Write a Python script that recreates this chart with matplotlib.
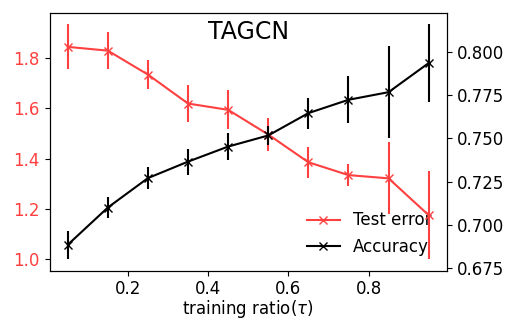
import numpy as np
import matplotlib
matplotlib.use('Agg')
import matplotlib.pyplot as plt

ratio = [0.05, 0.15, 0.25, 0.35, 0.45, 0.55, 0.65, 0.75, 0.85, 0.95]
# Test error (left axis) and its spread
test_err = [1.844, 1.829, 1.734, 1.619, 1.594, 1.496, 1.386, 1.335, 1.322, 1.176]
test_err_std = [0.089, 0.074, 0.059, 0.074, 0.077, 0.064, 0.062, 0.045, 0.143, 0.174]
# Accuracy (right axis) and its spread
acc = [0.6885, 0.7100, 0.7270, 0.7365, 0.7452, 0.7516, 0.7645, 0.7722, 0.7766, 0.7934]
acc_std = [0.0082, 0.0062, 0.0064, 0.0075, 0.0080, 0.0055, 0.0089, 0.0135, 0.0265, 0.0223]

red = '#ff4040'

fig = plt.figure(figsize=(5.16, 3.22), dpi=100)
ax = fig.add_axes([0.0963, 0.1593, 0.7694, 0.8012])
ax2 = ax.twinx()

l1 = ax.errorbar(ratio, test_err, yerr=test_err_std, color=red, marker='x', label='Test error')
l2 = ax2.errorbar(ratio, acc, yerr=acc_std, color='black', marker='x', label='Accuracy')

ax.tick_params(axis='y', labelcolor=red, labelsize=12)
ax.tick_params(axis='x', labelsize=12)
ax2.tick_params(axis='y', labelsize=12)
ax.set_yticks([1.0, 1.2, 1.4, 1.6, 1.8])
ax.set_xticks([0.2, 0.4, 0.6, 0.8])
ax2.set_yticks([0.675, 0.700, 0.725, 0.750, 0.775, 0.800])
ax.set_xlabel(r'training ratio($\tau$)', fontsize=12, labelpad=0)
ax.text(0.5, 0.9, 'TAGCN', transform=ax.transAxes, ha='center', va='baseline', fontsize=17)

leg = ax.legend([l1[0], l2[0]], ['Test error', 'Accuracy'], loc='lower right',
                frameon=False, fontsize=12)
leg.set_zorder(1)

fig.savefig('out.png', dpi=100)
